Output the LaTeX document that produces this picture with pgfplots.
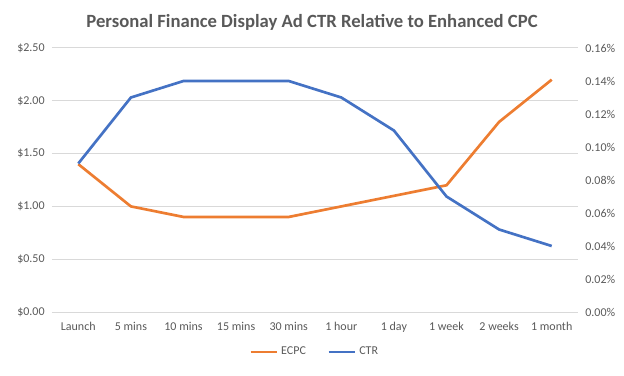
\documentclass[border=0pt]{standalone}
\usepackage{pgfplots}
\pgfplotsset{compat=1.18}
\usepackage{fontspec}
\setmainfont{Carlito}
\definecolor{ecpc}{HTML}{ED7D31}
\definecolor{ctr}{HTML}{4472C4}
\definecolor{gridc}{HTML}{D9D9D9}
\definecolor{txt}{HTML}{595959}
\begin{document}
\begin{tikzpicture}
\path (0,0) rectangle (468pt,281.25pt);
\pgfplotsset{every axis/.style={
  at={(39pt,47.25pt)}, anchor=south west,
  scale only axis, width=394.5pt, height=198pt,
  xmin=-0.5, xmax=9.5,
  axis line style={draw=none},
  major tick length=0pt,
  tick label style={font=\fontsize{9}{10}\selectfont, color=txt},
  /pgf/number format/assume math mode=true,
}}
\begin{axis}[
  ymin=0, ymax=2.5, ytick={0,0.5,...,2.5},
  ymajorgrids, grid style={gridc, line width=0.75pt},
  xtick={0,...,9},
  xticklabels={Launch,5 mins,10 mins,15 mins,30 mins,1 hour,1 day,1 week,2 weeks,1 month},
  yticklabel={\$\pgfmathprintnumber[fixed,fixed zerofill,precision=2]{\tick}},
  yticklabel style={xshift=-2pt},
  xticklabel style={yshift=-4pt},
  extra y ticks={0}, extra y tick labels={},
  extra y tick style={grid style={gridc, line width=0.75pt}},
]
\addplot[ecpc, line width=2pt] coordinates {
(0,1.40) (1,1.00) (2,0.90) (3,0.90) (4,0.90) (5,1.00) (6,1.10) (7,1.20) (8,1.80) (9,2.20)};
\end{axis}
\begin{axis}[
  ymin=0, ymax=0.16, ytick={0,0.02,...,0.16},
  axis y line*=right, axis x line=none,
  yticklabel={\pgfmathprintnumber[fixed,fixed zerofill,precision=2]{\tick}\%},
  yticklabel style={xshift=2pt},
  xtick=\empty,
  legend columns=2,
  legend style={at={(0.5,-0.1515)}, anchor=center, draw=none, fill=none,
    font=\fontsize{9}{10}\selectfont, text=txt,
    /tikz/every even column/.append style={column sep=14pt}},
  legend image post style={line width=2pt},
  legend image code/.code={\draw[#1] (0pt,0pt) -- (20pt,0pt);},
]
\addlegendimage{ecpc, line width=2pt}
\addlegendentry{ECPC}
\addplot[ctr, line width=2pt] coordinates {
(0,0.09) (1,0.13) (2,0.14) (3,0.14) (4,0.14) (5,0.13) (6,0.11) (7,0.07) (8,0.05) (9,0.04)};
\addlegendentry{CTR}
\end{axis}
\node[font=\bfseries\fontsize{14}{16}\selectfont, text=txt] at (234pt,264.75pt) {Personal Finance Display Ad CTR Relative to Enhanced CPC};
\end{tikzpicture}
\end{document}
